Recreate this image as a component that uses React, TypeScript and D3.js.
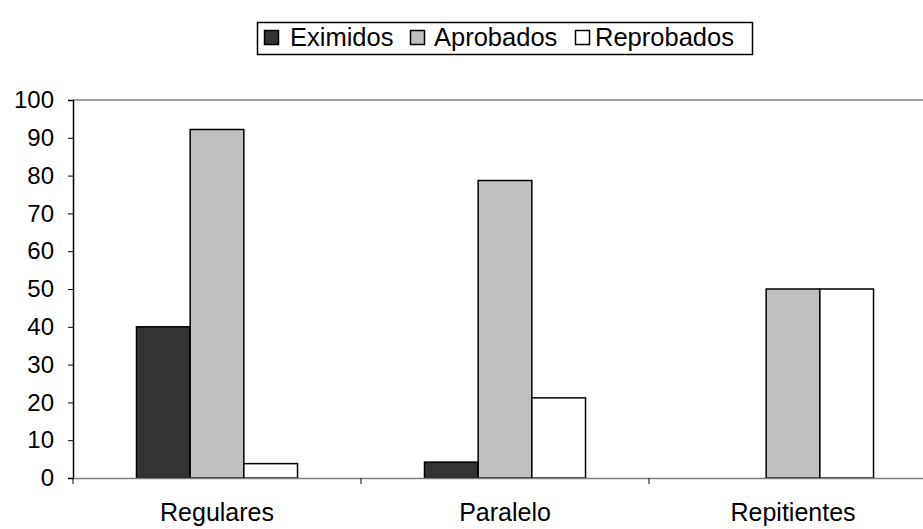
import * as d3 from "d3";
import { useEffect, useRef } from "react";

const categories = ["Regulares", "Paralelo", "Repitientes"];
const seriesNames = ["Eximidos", "Aprobados", "Reprobados"];
const eximidos = [40, 4.2, 0];
const aprobados = [92.2, 78.7, 50];
const reprobados = [3.8, 21.2, 50];
const yTicks = [0, 10, 20, 30, 40, 50, 60, 70, 80, 90, 100];
const colors = ["#333333", "#c0c0c0", "#ffffff"];

const W = 923;
const H = 529;

export default function App() {
  const ref = useRef<SVGSVGElement>(null);

  useEffect(() => {
    if (!ref.current) return;
    const svg = d3.select(ref.current);
    svg.selectAll("*").remove();

    const left = 73;
    const catW = 288;
    const top = 100;
    const bottom = 478;
    const font = "Liberation Sans, Arial, sans-serif";

    const x = d3
      .scaleBand<string>()
      .domain(categories)
      .range([left, left + catW * categories.length])
      .paddingInner(0)
      .paddingOuter(0);
    const xs = d3
      .scaleBand<string>()
      .domain(seriesNames)
      .range([0, catW])
      .paddingOuter(127 / 2 / 53.7);
    const y = d3.scaleLinear().domain([0, 100]).range([bottom, top]);

    const series = [eximidos, aprobados, reprobados];

    // plot frame (top and right)
    svg
      .append("path")
      .attr("d", `M${left},${top}H${x.range()[1]}V${bottom}`)
      .attr("fill", "none")
      .attr("stroke", "#808080")
      .attr("stroke-width", 1.5);

    // bars
    series.forEach((vals, si) => {
      svg
        .append("g")
        .selectAll("rect")
        .data(categories.map((c, i) => ({ c, v: vals[i] })).filter((d) => d.v > 0))
        .enter()
        .append("rect")
        .attr("x", (d) => x(d.c)! + xs(seriesNames[si])!)
        .attr("width", xs.bandwidth())
        .attr("y", (d) => y(d.v))
        .attr("height", (d) => y(0) - y(d.v))
        .attr("fill", colors[si])
        .attr("stroke", "#000")
        .attr("stroke-width", 1.5);
    });

    // y axis
    const yAxis = svg
      .append("g")
      .attr("transform", `translate(${left},0)`)
      .call(d3.axisLeft(y).tickValues(yTicks).tickSize(5).tickPadding(14));
    yAxis.select(".domain").attr("stroke", "#000").attr("stroke-width", 1.5);
    yAxis.selectAll(".tick line").attr("stroke", "#000");
    yAxis
      .selectAll("text")
      .attr("font-family", font)
      .attr("font-size", 24)
      .attr("fill", "#000");

    // x axis
    const xAxis = svg
      .append("g")
      .attr("transform", `translate(0,${bottom})`)
      .call(d3.axisBottom(x).tickSize(0));
    xAxis.select(".domain").attr("stroke", "#808080").attr("stroke-width", 1.5);
    xAxis
      .selectAll("text")
      .attr("font-family", font)
      .attr("font-size", 25)
      .attr("fill", "#000")
      .attr("dy", null)
      .attr("y", 43);
    // category separator ticks
    svg
      .append("g")
      .selectAll("line")
      .data(categories)
      .enter()
      .append("line")
      .attr("x1", (d) => x(d)!)
      .attr("x2", (d) => x(d)!)
      .attr("y1", bottom)
      .attr("y2", bottom + 6)
      .attr("stroke", "#000");

    // legend
    const lg = svg.append("g");
    lg.append("rect")
      .attr("x", 257.5)
      .attr("y", 22.5)
      .attr("width", 495)
      .attr("height", 32)
      .attr("fill", "#fff")
      .attr("stroke", "#000")
      .attr("stroke-width", 1.5);
    const sqX = [264, 410, 575];
    const txtX = [290, 434, 595];
    seriesNames.forEach((s, i) => {
      lg.append("rect")
        .attr("x", sqX[i] + 0.5)
        .attr("y", 30.5)
        .attr("width", 14)
        .attr("height", 14)
        .attr("fill", colors[i])
        .attr("stroke", "#000")
        .attr("stroke-width", 1.5);
      lg.append("text")
        .attr("x", txtX[i])
        .attr("y", 46)
        .attr("font-family", font)
        .attr("font-size", 25.5)
        .attr("fill", "#000")
        .text(s);
    });
  }, []);

  return (
    <svg
      ref={ref}
      width={W}
      height={H}
      style={{ position: "absolute", left: 0, top: 0, background: "#fff" }}
    />
  );
}
